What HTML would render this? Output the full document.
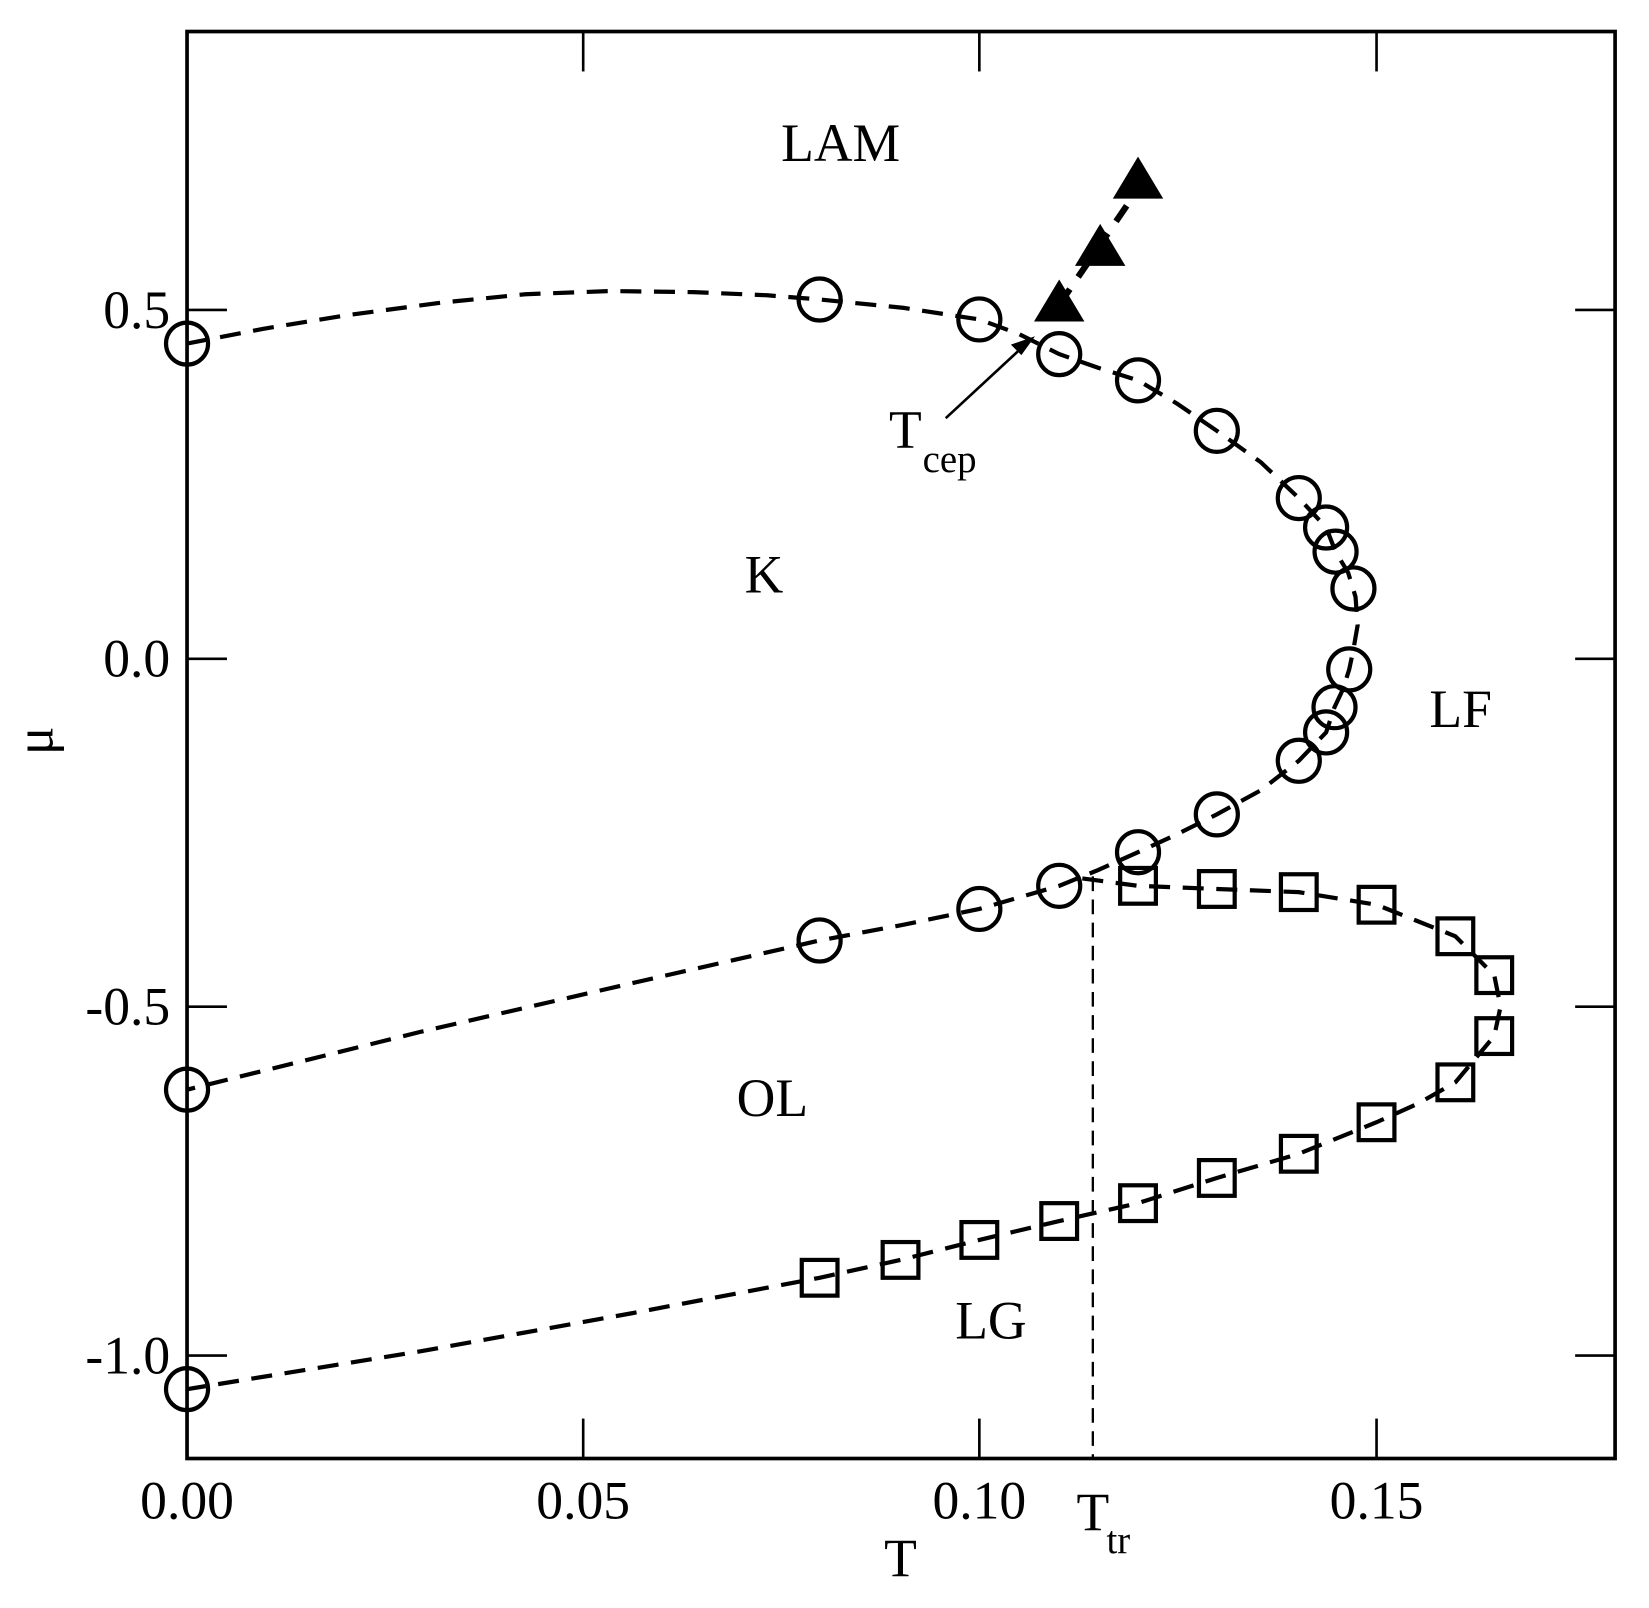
<!DOCTYPE html>
<html><head><meta charset="utf-8"><style>html,body{margin:0;padding:0;background:#fff}</style></head>
<body>
<svg width="1649" height="1603" viewBox="0 0 1649 1603" xmlns="http://www.w3.org/2000/svg">
<rect width="1649" height="1603" fill="#fff"/>
<g transform="scale(1.0508)" font-family="Liberation Serif, serif" fill="#000">
<g fill="none" stroke="#000" stroke-width="4" stroke-dasharray="20 12">
<polyline points="178,327 250,313 330,300 420,288 500,280 580,277 660,278 730,281 780,285 860,293 932,304 970,318 1008,337 1045,350 1083,362 1120,384 1158,410 1200,440 1236,474 1262,502 1271,525 1283,545 1290,568 1292,595 1288,618 1284,637 1278,656 1270,673 1262,697 1236,724 1200,752 1158,775 1120,794 1083,811 1045,828 1008,843 970,854 932,865 860,880 780,895 600,936 400,982 178,1037"/>
<polyline points="1030,836 1083,843 1158,846 1236,849 1310,861 1385,891 1422,928 1428,958 1422,986 1385,1030 1350,1050 1310,1068 1236,1098 1158,1121 1083,1145 1008,1162 932,1180 857,1199 780,1216 600,1250 400,1286 178,1322"/>
</g>
<line x1="1040" y1="834" x2="1040" y2="1388" stroke="#000" stroke-width="2.2" stroke-dasharray="14 8"/>
<line x1="1008" y1="290" x2="1083" y2="180" stroke="#000" stroke-width="6" stroke-dasharray="18 14"/>
<g fill="none" stroke="#000" stroke-width="4">
<circle cx="178" cy="327" r="20"/><circle cx="780" cy="285" r="20"/><circle cx="932" cy="304" r="20"/>
<circle cx="1008" cy="337" r="20"/><circle cx="1083" cy="362" r="20"/><circle cx="1158" cy="410" r="20"/>
<circle cx="1236" cy="474" r="20"/><circle cx="1262" cy="502" r="20"/><circle cx="1271" cy="525" r="20"/>
<circle cx="1288" cy="560" r="20"/><circle cx="1284" cy="637" r="20"/><circle cx="1270" cy="673" r="20"/>
<circle cx="1262" cy="697" r="20"/><circle cx="1236" cy="724" r="20"/><circle cx="1158" cy="775" r="20"/>
<circle cx="1083" cy="811" r="20"/><circle cx="1008" cy="843" r="20"/><circle cx="932" cy="865" r="20"/>
<circle cx="780" cy="895" r="20"/><circle cx="178" cy="1037" r="20"/><circle cx="178" cy="1322" r="20"/>
</g>
<g fill="none" stroke="#000" stroke-width="4">
<rect x="1066" y="826" width="34" height="34"/><rect x="1141" y="829" width="34" height="34"/>
<rect x="1219" y="832" width="34" height="34"/><rect x="1293" y="844" width="34" height="34"/>
<rect x="1368" y="874" width="34" height="34"/><rect x="1405" y="911" width="34" height="34"/>
<rect x="1405" y="969" width="34" height="34"/><rect x="1368" y="1013" width="34" height="34"/>
<rect x="1293" y="1051" width="34" height="34"/><rect x="1219" y="1081" width="34" height="34"/>
<rect x="1141" y="1104" width="34" height="34"/><rect x="1066" y="1128" width="34" height="34"/>
<rect x="991" y="1145" width="34" height="34"/><rect x="915" y="1163" width="34" height="34"/>
<rect x="840" y="1182" width="34" height="34"/><rect x="763" y="1199" width="34" height="34"/>
</g>
<polygon points="1008,266 984,306 1032,306"/>
<polygon points="1047,213 1023,253 1071,253"/>
<polygon points="1083,149 1059,189 1107,189"/>
<line x1="900" y1="398" x2="982" y2="322" stroke="#000" stroke-width="2.5"/>
<polygon points="985,320 962,328 972,338"/>
<rect x="178" y="30" width="1359" height="1358" fill="none" stroke="#000" stroke-width="3.5"/>
<g stroke="#000" stroke-width="2.5">
<line x1="555" y1="1388" x2="555" y2="1350"/><line x1="932" y1="1388" x2="932" y2="1350"/><line x1="1310" y1="1388" x2="1310" y2="1350"/>
<line x1="555" y1="30" x2="555" y2="68"/><line x1="932" y1="30" x2="932" y2="68"/><line x1="1310" y1="30" x2="1310" y2="68"/>
<line x1="178" y1="295" x2="216" y2="295"/><line x1="178" y1="627" x2="216" y2="627"/><line x1="178" y1="958" x2="216" y2="958"/><line x1="178" y1="1290" x2="216" y2="1290"/>
<line x1="1537" y1="295" x2="1499" y2="295"/><line x1="1537" y1="627" x2="1499" y2="627"/><line x1="1537" y1="958" x2="1499" y2="958"/><line x1="1537" y1="1290" x2="1499" y2="1290"/>
</g>
<g font-size="51">
<text x="162" y="312" text-anchor="end">0.5</text>
<text x="162" y="644" text-anchor="end">0.0</text>
<text x="162" y="975" text-anchor="end">-0.5</text>
<text x="162" y="1307" text-anchor="end">-1.0</text>
<text x="178" y="1445" text-anchor="middle">0.00</text>
<text x="555" y="1445" text-anchor="middle">0.05</text>
<text x="932" y="1445" text-anchor="middle">0.10</text>
<text x="1310" y="1445" text-anchor="middle">0.15</text>
<text x="857" y="1500" text-anchor="middle">T</text>
<text x="1040" y="1456" text-anchor="middle">T</text>
<text x="800" y="153" text-anchor="middle">LAM</text>
<text x="727" y="564" text-anchor="middle">K</text>
<text x="1390" y="692" text-anchor="middle">LF</text>
<text x="735" y="1062" text-anchor="middle">OL</text>
<text x="943" y="1274" text-anchor="middle">LG</text>
<text x="846" y="426">T</text>
<text transform="translate(50,705) rotate(-90)" text-anchor="middle">μ</text>
</g>
<text x="878" y="449" font-size="37">cep</text>
<text x="1053" y="1478" font-size="37">tr</text>
</g>
</svg>
</body></html>
